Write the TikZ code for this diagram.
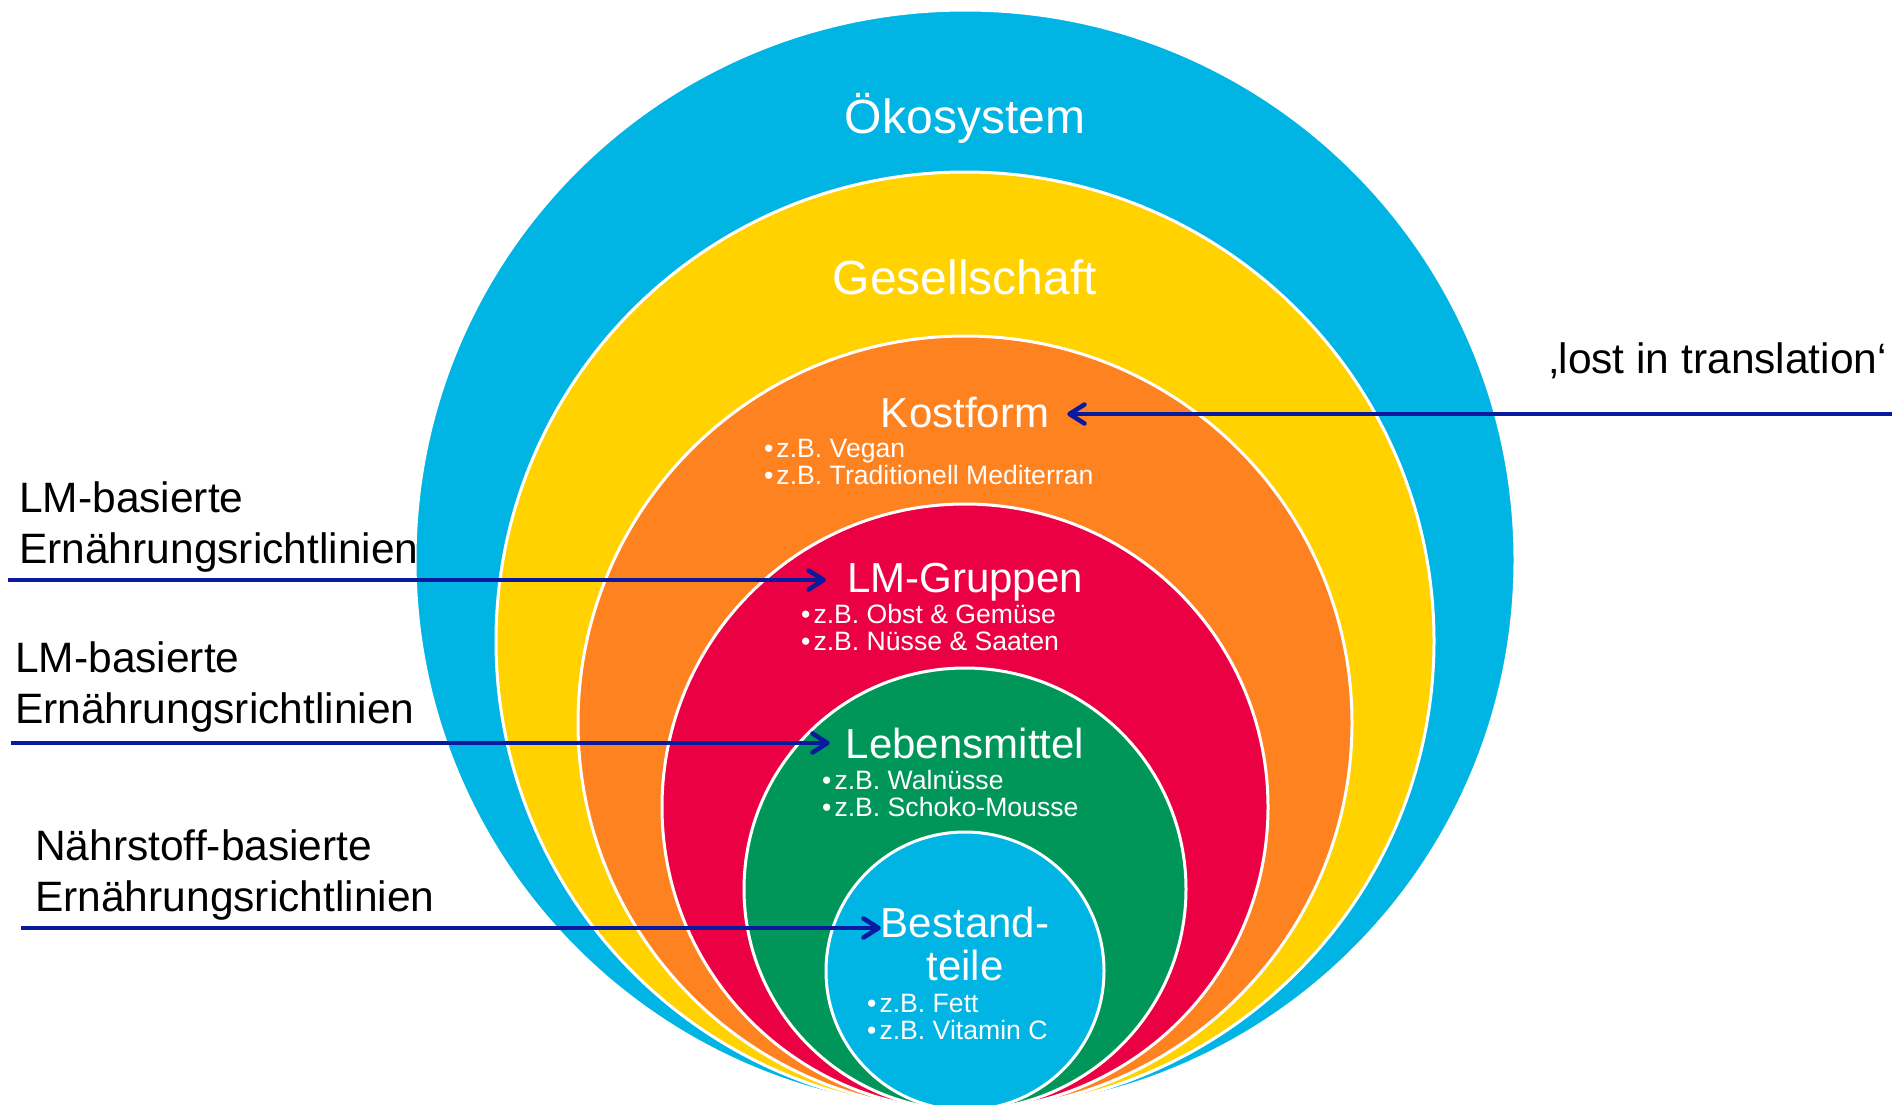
\documentclass[tikz,border=0pt]{standalone}
\usepackage{fontspec}
\setmainfont{Liberation Sans}
\usepackage{tikz}
\usetikzlibrary{arrows.meta, positioning}
\definecolor{skyblue}{RGB}{0,180,228}
\definecolor{sunyellow}{RGB}{255,210,0}
\definecolor{dietorange}{RGB}{255,130,32}
\definecolor{groupred}{RGB}{235,0,68}
\definecolor{foodgreen}{RGB}{0,150,90}
\definecolor{arrowblue}{RGB}{10,26,158}
\tikzset{>={Straight Barb[length=15pt,width=19pt,round]}}

\begin{document}
\begin{tikzpicture}[x=1pt,y=-1pt,
            ring/.style={circle,draw=white,line width=3pt,inner sep=0pt},
            title/.style={text=white,anchor=base,inner sep=0pt,align=center,font=\fontsize{42}{43}\selectfont},
            bigtitle/.style={title,font=\fontsize{48}{50}\selectfont},
            examples/.style={text=white,anchor=base west,inner sep=0pt,align=left,font=\fontsize{26.6}{27}\selectfont},
            guideline/.style={anchor=base west,inner sep=0pt,align=left,font=\fontsize{42.5}{51}\selectfont},
            pointer/.style={->,draw=arrowblue,line width=4.5pt}]
            \useasboundingbox (0,0) rectangle (1892,1104);
            
            % nested circles, all touching at the bottom
            \node[ring,fill=skyblue,minimum size=1100pt] (eco) at (965,560) {};
            \node[ring,fill=sunyellow,minimum size=938pt] (society) at (965,641) {};
            \node[ring,fill=dietorange,minimum size=774pt] (diet) at (965,723) {};
            \node[ring,fill=groupred,minimum size=606pt] (groups) at (965,807) {};
            \node[ring,fill=foodgreen,minimum size=442pt] (foods) at (965,889) {};
            \node[ring,fill=skyblue,minimum size=278pt] (parts) at (965,971) {};
            
            % titles (base = last line)
            \node[bigtitle] (ecotitle) at (965,133) {Ökosystem};
            \node[bigtitle] (societytitle) at (965,294) {Gesellschaft};
            \node[title] (diettitle) at (965,427) {Kostform};
            \node[title] (groupstitle) at (965,592) {LM-Gruppen};
            \node[title] (foodstitle) at (965,758) {Lebensmittel};
            \node[title] (partstitle) at (965,980) {Bestand-\\teile};
            
            % examples
            \node[examples] (dietex) at (764,484) {•\hspace{3pt}z.B. Vegan\\•\hspace{3pt}z.B. Traditionell Mediterran};
            \node[examples] (groupsex) at (801,650) {•\hspace{3pt}z.B. Obst \& Gemüse\\•\hspace{3pt}z.B. Nüsse \& Saaten};
            \node[examples] (foodsex) at (822,816) {•\hspace{3pt}z.B. Walnüsse\\•\hspace{3pt}z.B. Schoko-Mousse};
            \node[examples] (partsex) at (867,1039) {•\hspace{3pt}z.B. Fett\\•\hspace{3pt}z.B. Vitamin C};
            
            % guidelines on the left, remark on the right
            \node[guideline] (lmone) at (19,563) {LM-basierte\\Ernährungsrichtlinien};
            \node[guideline] (lmtwo) at (15,723) {LM-basierte\\Ernährungsrichtlinien};
            \node[guideline] (nutrient) at (35,911) {Nährstoff-basierte\\Ernährungsrichtlinien};
            \node[guideline] (lost) at (1549,373) {‚lost in translation‘};
            
            \coordinate (s1) at (8,580);
            \coordinate (s2) at (11,743);
            \coordinate (s3) at (21,928);
            \coordinate (s4) at (1892,414);
            
            \draw[pointer,shorten >=21pt] (s1) -- (s1 -| groupstitle.west);
            \draw[pointer,shorten >=16pt] (s2) -- (s2 -| foodstitle.west);
            \draw[pointer] (s3) -- (s3 -| partstitle.west);
            \draw[pointer,shorten >=18pt] (s4) -- (s4 -| diettitle.east);
            
            \end{tikzpicture}
\end{document}
